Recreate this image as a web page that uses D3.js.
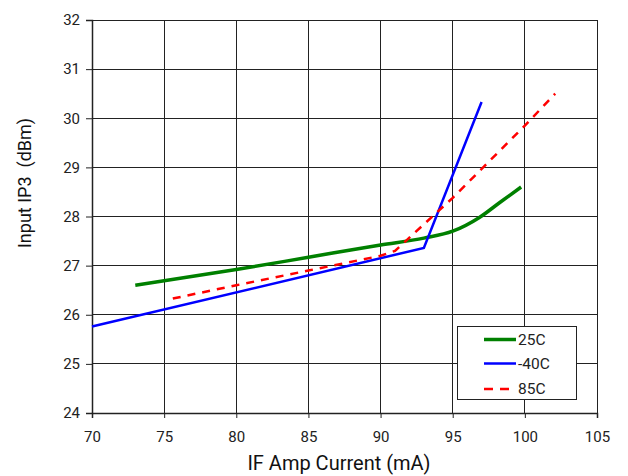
<!DOCTYPE html>
<html><head><meta charset="utf-8">
<script src="https://cdn.jsdelivr.net/npm/d3@7"></script>
<style>body{margin:0;background:#fff}svg{display:block}</style>
</head><body><svg id="c" width="628" height="476"></svg>
<script>
const xTicks = [70,75,80,85,90,95,100,105];
const yTicks = [24,25,26,27,28,29,30,31,32];
const seriesNames = ["25C","-40C","85C"];
const seriesColors = ["#008000","#0000ff","#ff0000"];
const green25X = [73.0,80,85,90,93,95,96.85,98.24,99.74];
const green25Y = [26.6,26.92,27.17,27.42,27.56,27.7,27.98,28.28,28.6];
const blue40X = [70,93,97];
const blue40Y = [25.76,27.36,30.33];
const red85X = [75.6,80,85,90,91,95,100,102.1];
const red85Y = [26.33,26.6,26.9,27.2,27.3,28.38,29.85,30.5];

const W=628,H=476,m={l:92,r:31,t:20,b:63};
const svg=d3.select("#c");
const x=d3.scaleLinear().domain([70,105]).range([m.l,W-m.r]);
const y=d3.scaleLinear().domain([24,32]).range([H-m.b,m.t]);
const font="Roboto, 'Liberation Sans', sans-serif";

// grid
svg.append("g").selectAll("line").data(xTicks).join("line")
  .attr("x1",d=>x(d)).attr("x2",d=>x(d)).attr("y1",y(24)).attr("y2",y(32))
  .attr("stroke","#222").attr("stroke-width",1).attr("shape-rendering","crispEdges");
svg.append("g").selectAll("line").data(yTicks).join("line")
  .attr("y1",d=>y(d)).attr("y2",d=>y(d)).attr("x1",x(70)).attr("x2",x(105))
  .attr("stroke","#222").attr("stroke-width",1).attr("shape-rendering","crispEdges");

const xa=svg.append("g").attr("transform",`translate(0,${y(24)})`)
  .call(d3.axisBottom(x).tickValues(xTicks).tickSize(5).tickPadding(13));
const ya=svg.append("g").attr("transform",`translate(${x(70)},0)`)
  .call(d3.axisLeft(y).tickValues(yTicks).tickSize(6).tickPadding(6));
[xa,ya].forEach(a=>{
  a.selectAll("path").attr("stroke","#222").attr("stroke-width",1.5);
  a.selectAll("line").attr("stroke","#222");
  a.selectAll("text").attr("font-family",font).attr("font-size",15).attr("fill","#222");
});

const data=[
  {name:seriesNames[0],color:seriesColors[0],xs:green25X,ys:green25Y,w:3.5,dash:null,curve:d3.curveMonotoneX},
  {name:seriesNames[1],color:seriesColors[1],xs:blue40X,ys:blue40Y,w:2.5,dash:null,curve:d3.curveLinear},
  {name:seriesNames[2],color:seriesColors[2],xs:red85X,ys:red85Y,w:2.5,dash:"8,7",curve:d3.curveLinear}
];
data.forEach(s=>{
  const pts=s.xs.map((v,i)=>[v,s.ys[i]]);
  svg.append("path").datum(pts)
    .attr("d",d3.line().x(d=>x(d[0])).y(d=>y(d[1])).curve(s.curve))
    .attr("fill","none").attr("stroke",s.color).attr("stroke-width",s.w)
    .attr("stroke-dasharray",s.dash);
});

// legend
const lg=svg.append("g");
lg.append("rect").attr("x",457.5).attr("y",326.5).attr("width",119).attr("height",73)
  .attr("fill","#fff").attr("stroke","#222").attr("stroke-width",1);
data.forEach((s,i)=>{
  const yy=[339.5,363.5,389][i];
  lg.append("line").attr("x1",484).attr("x2",516).attr("y1",yy).attr("y2",yy)
    .attr("stroke",s.color).attr("stroke-width",s.w).attr("stroke-dasharray",s.dash?"9,7":null);
  lg.append("text").attr("x",518).attr("y",yy).attr("dy","0.35em")
    .attr("font-family",font).attr("font-size",15.5).attr("fill","#222").text(s.name);
});

svg.append("text").attr("x",339).attr("y",470)
  .attr("text-anchor","middle").attr("font-family",font).attr("font-size",20).attr("fill","#111")
  .text("IF Amp Current (mA)");
svg.append("text").attr("transform",`translate(31,183) rotate(-90)`)
  .attr("text-anchor","middle").attr("font-family",font).attr("font-size",18).attr("fill","#111")
  .attr("xml:space","preserve").style("white-space","pre")
  .text("Input IP3  (dBm)");
</script></body></html>
